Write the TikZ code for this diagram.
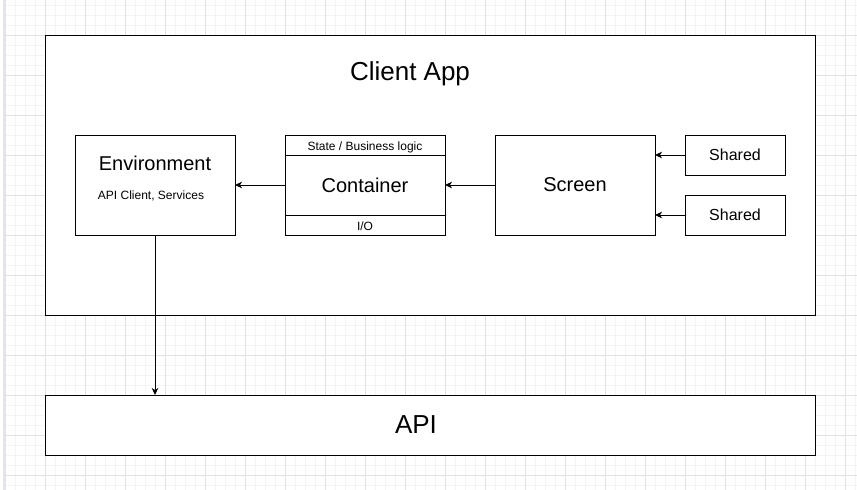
\documentclass[tikz,border=0pt]{standalone}
\usepackage{fontspec}
\setmainfont{Liberation Sans}
\usetikzlibrary{arrows.meta,calc}
\definecolor{gridminor}{HTML}{F4F4F4}
\definecolor{gridmajor}{HTML}{E2E2E2}
\definecolor{sidebar}{HTML}{E4E6EB}
\tikzset{
  box/.style={draw=black, line width=1pt, fill=white, inner sep=0pt, outer sep=0pt, anchor=north west},
  lbl/.style={inner sep=0pt, outer sep=0pt, text=black},
  conn/.style={draw=black, line width=0.9pt, -{Stealth[length=7pt,width=6.5pt,inset=2pt]}},
}
\newcommand{\fsz}[1]{\fontsize{#1}{#1}\selectfont}
\begin{document}
\begin{tikzpicture}[x=1pt,y=-1pt]
\useasboundingbox (0,0) rectangle (857,490);
\fill[white] (0,0) rectangle (857,490);
% grid
\foreach \x in {5,15,...,855} \draw[gridminor, line width=1pt] (\x,0) -- (\x,490);
\foreach \y in {5,15,...,485} \draw[gridminor, line width=1pt] (5,\y) -- (857,\y);
\foreach \x in {5,45,...,845} \draw[gridmajor, line width=1pt] (\x,0) -- (\x,490);
\foreach \y in {35,75,...,475} \draw[gridmajor, line width=1pt] (5,\y) -- (857,\y);
\fill[sidebar] (2.5,0) rectangle (5,490);
% Client App
\node[box, minimum width=770pt, minimum height=280pt] (app) at (45,35) {};
\node[lbl, font=\fsz{26}, anchor=base] (apptitle) at (410,80.5) {Client App};
% Environment
\node[box, minimum width=160pt, minimum height=100pt] (env) at (75,135) {};
\node[lbl, font=\fsz{20}] (envt) at (155,163) {Environment};
\node[lbl, font=\fsz{12}] (envs) at (151,196) {API Client, Services};
% Container
\node[box, minimum width=160pt, minimum height=100pt] (cont) at (285,135) {};
\node[box, minimum width=160pt, minimum height=20pt] (conth) at (285,135) {};
\node[box, minimum width=160pt, minimum height=20pt] (contf) at (285,215) {};
\node[lbl, font=\fsz{12}, anchor=base] (conthl) at (365,150) {State / Business logic};
\node[lbl, font=\fsz{12}, anchor=base] (contfl) at (365,230) {I/O};
\node[lbl, font=\fsz{20}] (contt) at (365,185) {Container};
% Screen
\node[box, minimum width=160pt, minimum height=100pt, font=\fsz{20}] (scr) at (495,135) {Screen};
% Shared
\node[box, minimum width=100pt, minimum height=40pt, font=\fsz{16}] (sh1) at (685,135) {Shared};
\node[box, minimum width=100pt, minimum height=40pt, font=\fsz{16}] (sh2) at (685,195) {Shared};
% API
\node[box, minimum width=770pt, minimum height=60pt] (api) at (45,395) {};
\node[lbl, font=\fsz{26}, anchor=base] (apit) at (416,433.5) {API};
% connectors
\draw[conn] (cont.west) -- (env.east);
\draw[conn] (scr.west) -- (cont.east);
\draw[conn] (sh1.west) -- (sh1.west -| scr.east);
\draw[conn] (sh2.west) -- (sh2.west -| scr.east);
\draw[conn] (env.south) -- (api.north -| env.south);
\end{tikzpicture}
\end{document}
